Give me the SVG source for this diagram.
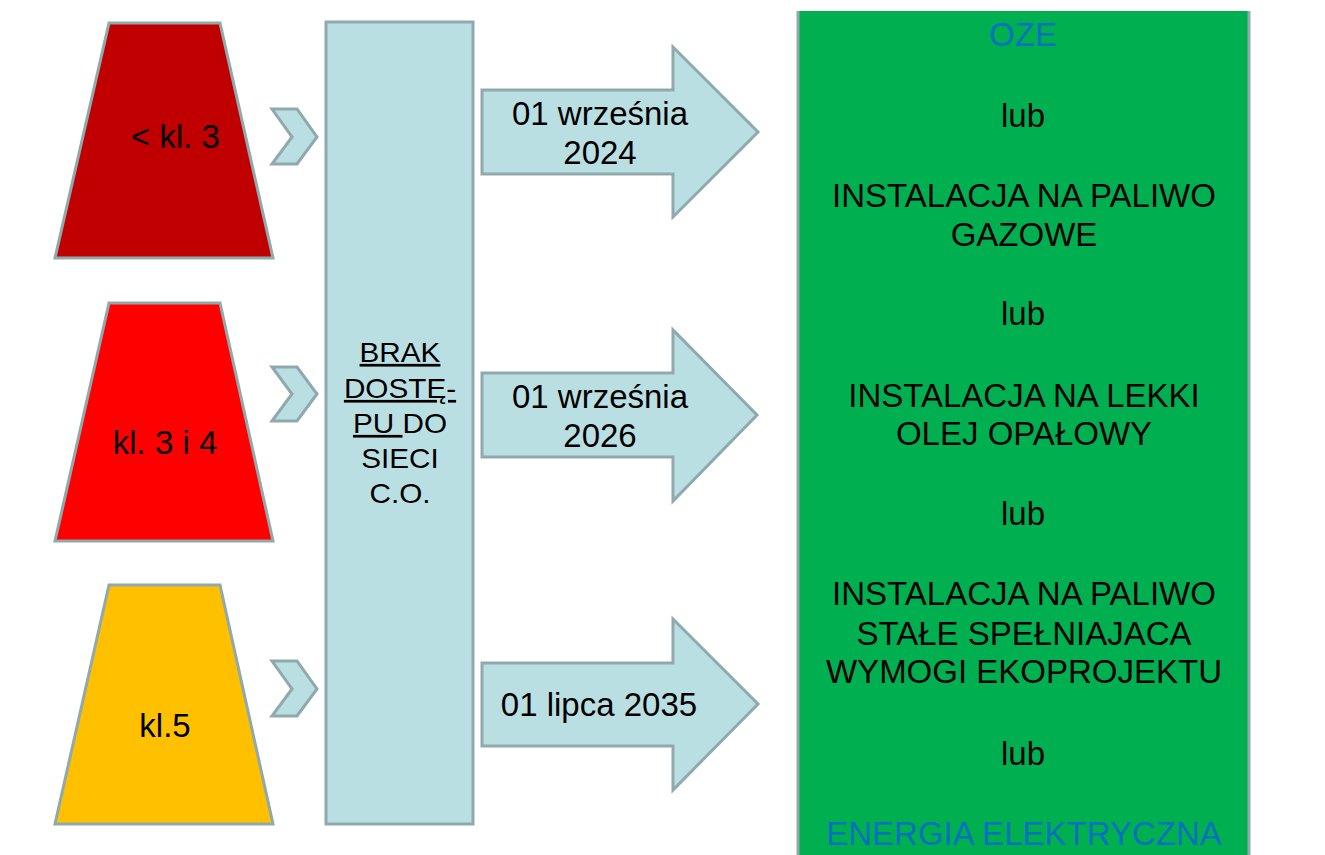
<svg xmlns="http://www.w3.org/2000/svg" width="1325" height="855" viewBox="0 0 1325 855">
<style>
.shp{stroke:#8FA9AC;stroke-width:3;stroke-linejoin:miter}
.lb{fill:#BADFE3}
.t{font-family:"Liberation Sans",Arial,sans-serif;fill:#000;text-anchor:middle}
.t32{font-size:33px}
.blue{fill:#0070C0}
.u{text-decoration:underline;text-decoration-skip-ink:none}
</style>
<rect width="1325" height="855" fill="#fff"/>
<g id="klasa-lt3">
<polygon class="shp" fill="#C00000" points="109,23 220,23 273,258 55,258"/>
<text class="t t32" x="131" y="148" style="text-anchor:start">&lt; kl. 3</text>
</g>
<g id="klasa-3i4">
<polygon class="shp" fill="#FF0000" points="109,303 220,303 273,541 55,541"/>
<text class="t t32" x="165" y="454">kl. 3 i 4</text>
</g>
<g id="klasa-5">
<polygon class="shp" fill="#FFC000" points="109,585 220,585 273,824 55,824"/>
<text class="t t32" x="165" y="737">kl.5</text>
</g>
<g id="connectors">
<polygon class="shp lb" points="272,109 297,109 317,137 297,164 272,164 292,137"/>
<polygon class="shp lb" points="272,367 297,367 317,394 297,421 272,421 292,394"/>
<polygon class="shp lb" points="272,661 297,661 317,689 297,716 272,716 292,689"/>
</g>
<g id="brak-dostepu">
<rect class="shp lb" x="326" y="22" width="147" height="802"/>
<g transform="translate(400,0) scale(1.1,1)">
<text class="t" x="0" y="362" font-size="27"><tspan class="u">BRAK</tspan></text>
<text class="t" x="0" y="398" font-size="27"><tspan class="u">DOSTĘ-</tspan></text>
<text class="t" x="0" y="433" font-size="27"><tspan class="u">PU </tspan>DO</text>
<text class="t" x="0" y="468" font-size="27">SIECI</text>
<text class="t" x="0" y="503" font-size="27">C.O.</text>
</g>
</g>
<g id="termin-2024">
<polygon class="shp lb" points="482,90 673,90 673,47 758,132 673,217 673,174 482,174"/>
<text class="t t32" x="600" y="125">01 września</text>
<text class="t t32" x="600" y="164">2024</text>
</g>
<g id="termin-2026">
<polygon class="shp lb" points="482,373 673,373 673,330 757,415 673,501 673,457 482,457"/>
<text class="t t32" x="600" y="408">01 września</text>
<text class="t t32" x="600" y="447">2026</text>
</g>
<g id="termin-2035">
<polygon class="shp lb" points="482,663 673,663 673,619 758,704 673,790 673,746 482,746"/>
<text class="t t32" x="599" y="716">01 lipca 2035</text>
</g>
<g id="rozwiazania">
<rect fill="#00B050" x="797" y="11" width="452" height="850"/>
<line class="shp" x1="798" y1="11" x2="798" y2="860"/>
<line class="shp" x1="1249" y1="11" x2="1249" y2="860"/>
<text class="t t32 blue" x="1023" y="46">OZE</text>
<text class="t t32" x="1023" y="127">lub</text>
<text class="t t32" x="1024" y="207">INSTALACJA NA PALIWO</text>
<text class="t t32" x="1024" y="246">GAZOWE</text>
<text class="t t32" x="1023" y="325">lub</text>
<text class="t t32" x="1024" y="407">INSTALACJA NA LEKKI</text>
<text class="t t32" x="1024" y="445">OLEJ OPAŁOWY</text>
<text class="t t32" x="1023" y="525">lub</text>
<text class="t t32" x="1024" y="605">INSTALACJA NA PALIWO</text>
<text class="t t32" x="1024" y="645">STAŁE SPEŁNIAJACA</text>
<text class="t t32" x="1024" y="683">WYMOGI EKOPROJEKTU</text>
<text class="t t32" x="1023" y="765">lub</text>
<text class="t t32 blue" x="1024" y="845">ENERGIA ELEKTRYCZNA</text>
</g>
</svg>
